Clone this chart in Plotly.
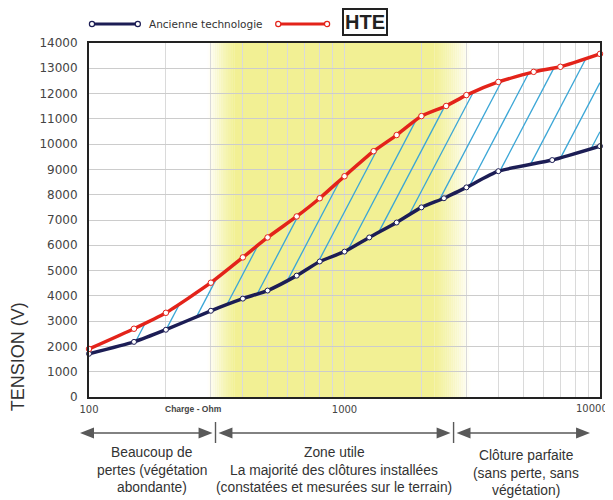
import numpy as np
import plotly.graph_objects as go

# ---------------- data ----------------
load_ohm_hte = [100, 150, 200, 300, 400, 500, 650, 800, 1000, 1300, 1600, 2000, 2500, 3000, 4000, 5500, 7000, 10000]
voltage_hte = [1900, 2700, 3330, 4520, 5520, 6310, 7140, 7860, 8730, 9720, 10360, 11110, 11510, 11940, 12460, 12860, 13060, 13570]

load_ohm_old = [100, 150, 200, 300, 400, 500, 650, 800, 1000, 1250, 1600, 2000, 2450, 3000, 4000, 6500, 10000]
voltage_old = [1710, 2180, 2660, 3410, 3890, 4210, 4800, 5360, 5750, 6310, 6900, 7500, 7860, 8290, 8930, 9370, 9920]

y_ticks = list(range(0, 14001, 1000))
x_tick_labels = {100: "100", 1000: "1000"}
x_last_label = "10000"

series_names = ["Ancienne technologie", "HTE"]
x_axis_caption = "Charge - Ohm"
y_axis_caption = "TENSION (V)"

zone_texts = [
    ["Beaucoup de", "pertes (végétation", "abondante)"],
    ["Zone utile", "La majorité des clôtures installées", "(constatées et mesurées sur le terrain)"],
    ["Clôture parfaite", "(sans perte, sans", "végétation)"],
]

# ---------------- layout geometry (page pixels) ----------------
PAGE_W, PAGE_H = 613, 500
OFF = 8                      # default page margin around the figure div
W, H = PAGE_W - OFF, PAGE_H - OFF
L, R, T, B = 89, 602, 43, 397   # plot area in page pixels


def px(xp):
    return (xp - L) / (R - L)


def py(yp):
    return (B - yp) / (B - T)


RED = "#e3231a"
NAVY = "#1c1d55"
HATCH = "#3aa6d6"
YEL = (242, 240, 148)
TXT = "#333333"

fig = go.Figure()

# ---------------- hatching between the curves ----------------
lx_old = np.log10(load_ohm_old)
lx_hte = np.log10(load_ohm_hte)
slope = 1.9 * (R - L) / 2.0 / ((B - T) / 14000.0)  # volts per decade for a 1.9 px/px slope
hx, hy = [], []
dense = np.linspace(2, 4, 4001)
red_dense = np.interp(dense, lx_hte, voltage_hte)
for s in np.linspace(2.183, 3.965, 16):
    y0 = np.interp(s, lx_old, voltage_old)
    line = y0 + slope * (dense - s)
    mask = (dense >= s) & (line >= red_dense)
    le = dense[np.argmax(mask)] if mask.any() else 4.0
    ye = y0 + slope * (le - s)
    hx += [10 ** s, 10 ** le, None]
    hy += [y0, ye, None]

fig.add_trace(go.Scatter(x=hx, y=hy, mode="lines", line=dict(color=HATCH, width=1.3),
                         hoverinfo="skip", showlegend=False))

fig.add_trace(go.Scatter(x=load_ohm_old, y=voltage_old, mode="lines+markers", name=series_names[0],
                         line=dict(color=NAVY, width=3.5, shape="spline", smoothing=0.5),
                         marker=dict(symbol="circle", size=5, color="white", line=dict(color=NAVY, width=1)),
                         cliponaxis=False, showlegend=False))
fig.add_trace(go.Scatter(x=load_ohm_hte, y=voltage_hte, mode="lines+markers", name=series_names[1],
                         line=dict(color=RED, width=3.5, shape="spline", smoothing=0.5),
                         marker=dict(symbol="circle", size=5.5, color="white", line=dict(color=RED, width=1)),
                         cliponaxis=False, showlegend=False))

shapes = []


def yrect(x0, x1, a):
    shapes.append(dict(type="rect", xref="paper", yref="paper", x0=px(x0), x1=px(x1), y0=0, y1=1,
                       fillcolor=f"rgba({YEL[0]},{YEL[1]},{YEL[2]},{a:.3f})", line=dict(width=0),
                       layer="below"))


yrect(235, 436, 1.0)
nl = 14
edges = np.linspace(208, 235, nl + 1)
for i in range(nl):
    yrect(edges[i], edges[i + 1] + 0.3, (i + 0.5) / nl)
nr = 18
edges = np.linspace(436, 472, nr + 1)
for i in range(nr):
    yrect(edges[i], edges[i + 1] + 0.3, 1 - (i + 0.5) / nr)

# legend
for (x0, x1, col) in [(92, 138, NAVY), (279, 328, RED)]:
    shapes.append(dict(type="line", xref="paper", yref="paper", x0=px(x0), x1=px(x1),
                       y0=py(24), y1=py(24), line=dict(color=col, width=3)))
    for xc in (x0, x1):
        r = 2.6
        shapes.append(dict(type="circle", xref="paper", yref="paper",
                           x0=px(xc - r), x1=px(xc + r), y0=py(24 + r), y1=py(24 - r),
                           fillcolor="white", line=dict(color=col, width=1.2)))

# double arrows under the axis
AC = "#595959"
ay = 433
seps = [216, 455]
segments = [(80, 213), (219, 452), (458, 592)]
for (a0, a1) in segments:
    shapes.append(dict(type="line", xref="paper", yref="paper", x0=px(a0 + 10), x1=px(a1 - 10),
                       y0=py(ay), y1=py(ay), line=dict(color=AC, width=1.6)))
    shapes.append(dict(type="path", xref="paper", yref="paper",
                       path=f"M {px(a0)},{py(ay)} L {px(a0 + 14)},{py(ay - 5.5)} L {px(a0 + 14)},{py(ay + 5.5)} Z",
                       fillcolor=AC, line=dict(width=0)))
    shapes.append(dict(type="path", xref="paper", yref="paper",
                       path=f"M {px(a1)},{py(ay)} L {px(a1 - 14)},{py(ay - 5.5)} L {px(a1 - 14)},{py(ay + 5.5)} Z",
                       fillcolor=AC, line=dict(width=0)))
for sx in seps:
    shapes.append(dict(type="line", xref="paper", yref="paper", x0=px(sx), x1=px(sx),
                       y0=py(422), y1=py(443), line=dict(color=AC, width=1.4)))

annotations = []
annotations.append(dict(text=series_names[0], x=px(147), y=py(24), xref="paper", yref="paper",
                        xanchor="left", yanchor="middle", showarrow=False,
                        font=dict(family="DejaVu Sans", size=10.5, color=TXT)))
annotations.append(dict(text=f"<b>{series_names[1]}</b>", x=px(366), y=py(22), xref="paper", yref="paper",
                        xanchor="center", yanchor="middle", showarrow=False,
                        font=dict(family="Liberation Sans", size=20, color="#222"),
                        bordercolor="#222", borderwidth=2, borderpad=1, bgcolor="white"))
annotations.append(dict(text=f"<b>{x_axis_caption}</b>", x=px(194), y=py(409), xref="paper", yref="paper",
                        xanchor="center", yanchor="middle", showarrow=False,
                        font=dict(family="Liberation Sans", size=8.5, color="#444")))
annotations.append(dict(text=x_last_label, x=px(612), y=py(408), xref="paper", yref="paper",
                        xanchor="right", yanchor="middle", showarrow=False,
                        font=dict(family="DejaVu Sans", size=10, color="#444")))
annotations.append(dict(text=y_axis_caption, x=px(18), y=py(357), xref="paper", yref="paper",
                        xanchor="center", yanchor="middle", showarrow=False, textangle=-90,
                        font=dict(family="Liberation Sans", size=18, color=TXT)))

centers = [152, 335, 528]
line_y = [[452, 470, 488], [452, 470, 488], [455, 473, 490]]
for ci, lines in enumerate(zone_texts):
    for li, t in enumerate(lines):
        annotations.append(dict(text=t, x=px(centers[ci]), y=py(line_y[ci][li]), xref="paper", yref="paper",
                                xanchor="center", yanchor="middle", showarrow=False,
                                font=dict(family="Liberation Sans", size=13.8, color=TXT)))

x_tickvals = [m * 10 ** e for e in (2, 3) for m in range(1, 10)] + [10000]
x_ticktext = [x_tick_labels.get(v, "") for v in x_tickvals]

fig.update_layout(
    width=W, height=H,
    margin=dict(l=L - OFF, r=W - (R - OFF), t=T - OFF, b=H - (B - OFF)),
    paper_bgcolor="white", plot_bgcolor="white",
    showlegend=False,
    shapes=shapes, annotations=annotations,
    xaxis=dict(type="log", range=[2, 4], tickvals=x_tickvals, ticktext=x_ticktext,
               showgrid=True, gridcolor="#dadada", gridwidth=1, zeroline=False,
               showline=True, mirror=True, linecolor="#222", linewidth=2,
               ticks="", ticklabelstandoff=2,
               tickfont=dict(family="DejaVu Sans", size=10, color="#444")),
    yaxis=dict(range=[0, 14000], tickvals=y_ticks, ticktext=[str(v) for v in y_ticks],
               showgrid=True, gridcolor="#cccccc", gridwidth=1, zeroline=False,
               showline=True, mirror=True, linecolor="#222", linewidth=2,
               ticks="", ticklabelstandoff=7,
               tickfont=dict(family="DejaVu Sans", size=12, color="#444")),
)

fig.write_html("out.html")
